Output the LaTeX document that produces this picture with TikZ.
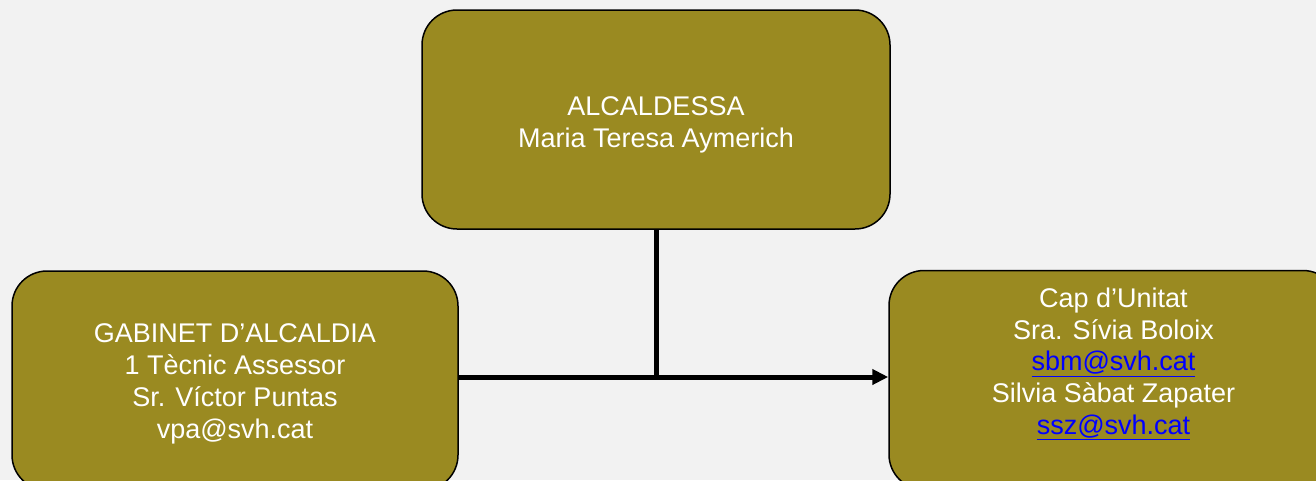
\documentclass[tikz,border=0pt]{standalone}
\usepackage{fontspec}
\setmainfont{Liberation Sans}
\usetikzlibrary{arrows.meta}
\definecolor{bgc}{RGB}{242,242,242}
\definecolor{boxc}{RGB}{154,138,33}
\definecolor{linkc}{RGB}{0,0,255}
\tikzset{
  orgbox/.style={draw=black, line width=1.5pt, fill=boxc, rounded corners=35pt, inner sep=0pt},
  orgtext/.style={text=white, align=center, font=\fontsize{27}{31.8}\selectfont, inner sep=0pt},
  conn/.style={line width=5pt, draw=black},
}
\newcommand{\maillink}[1]{\textcolor{linkc}{\underline{#1}}}
\begin{document}
\begin{tikzpicture}[x=1pt,y=-1pt]
\fill[bgc] (0,0) rectangle (1316,480);
\useasboundingbox (0,0) rectangle (1316,480);
\clip (0,0) rectangle (1316,480);
\node[orgbox, minimum width=468pt, minimum height=219pt] (top) at (656,119.5) {};
\node[orgtext] (toptext) at (656,125) {ALCALDESSA\\Maria Teresa Aymerich};
\node[orgbox, minimum width=446pt, minimum height=219pt] (lbox) at (235,380.5) {};
\node[orgtext] (ltext) at (235,384) {GABINET D’ALCALDIA\\1 Tècnic Assessor\\Sr. Víctor Puntas\\vpa@svh.cat};
\node[orgbox, minimum width=449pt, minimum height=219pt] (rbox) at (1113.5,380) {};
\node[orgtext] (rtext) at (1113.5,364) {Cap d’Unitat\\Sra. Sívia Boloix\\\maillink{sbm@svh.cat}\\Silvia Sàbat Zapater\\\maillink{ssz@svh.cat}};
\coordinate (j) at (656,377);
\draw[conn] (top.south) -- (j);
\draw[conn, -{Triangle[length=16pt,width=15pt]}] (lbox.east |- j) -- (rbox.west |- j);
\end{tikzpicture}
\end{document}
